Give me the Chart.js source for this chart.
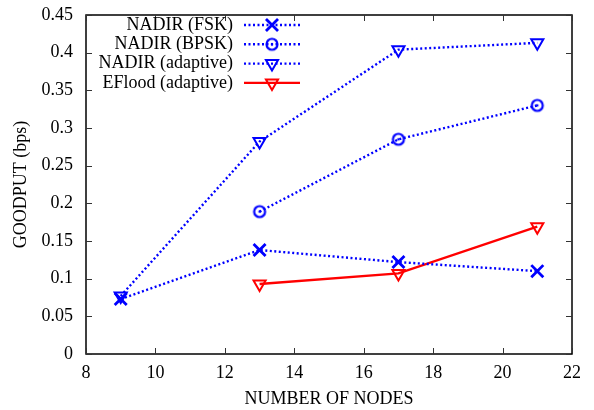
<!DOCTYPE html>
<html>
<head>
<meta charset="utf-8">
<script src="https://cdn.jsdelivr.net/npm/chart.js@4/dist/chart.umd.min.js"></script>
<style>
  html, body { margin: 0; padding: 0; background: #fff; }
  #wrap { width: 594px; height: 410px; }
</style>
</head>
<body>
<div id="wrap"><canvas id="goodputChart" width="594" height="410"></canvas></div>
<script>
const nodes = [9, 13, 17, 21];
const nadirFsk = [0.073, 0.138, 0.122, 0.110];
const nadirBpsk = [null, 0.189, 0.285, 0.330];
const nadirAdaptive = [0.077, 0.282, 0.404, 0.413];
const efloodAdaptive = [null, 0.093, 0.107, 0.169];
const seriesNames = ['NADIR (FSK)', 'NADIR (BPSK)', 'NADIR (adaptive)', 'EFlood (adaptive)'];

const FONT = 'Liberation Serif';
const BLUE = '#0000ff';
const RED = '#ff0000';

function toPoints(vals) {
    return nodes.map((n, i) => ({ x: n, y: vals[i] })).filter(p => p.y !== null);
}

// circle with a dot in the middle
function circleDot() {
    const c = document.createElement('canvas');
    c.width = 16; c.height = 16;
    const g = c.getContext('2d');
    g.strokeStyle = BLUE;
    g.fillStyle = BLUE;
    g.lineWidth = 2.2;
    g.beginPath(); g.arc(8, 8, 5.5, 0, Math.PI * 2); g.stroke();
    g.beginPath(); g.arc(8, 8, 1.3, 0, Math.PI * 2); g.fill();
    return c;
}

const dotted = [2, 2.5];

const datasets = [
    { label: seriesNames[0], data: toPoints(nadirFsk), borderColor: BLUE, borderWidth: 2.4, borderDash: dotted,
      pointStyle: 'crossRot', pointRadius: 8.5, pointBorderWidth: 2.8, pointBorderColor: BLUE },
    { label: seriesNames[1], data: toPoints(nadirBpsk), borderColor: BLUE, borderWidth: 2.4, borderDash: dotted,
      pointStyle: circleDot(), pointRadius: 6 },
    { label: seriesNames[2], data: toPoints(nadirAdaptive), borderColor: BLUE, borderWidth: 2.4, borderDash: dotted,
      pointStyle: 'triangle', rotation: 180, pointRadius: 7, pointBorderWidth: 2,
      pointBorderColor: BLUE, pointBackgroundColor: 'rgba(0,0,0,0)' },
    { label: seriesNames[3], data: toPoints(efloodAdaptive), borderColor: RED, borderWidth: 2.4,
      pointStyle: 'triangle', rotation: 180, pointRadius: 7, pointBorderWidth: 2,
      pointBorderColor: RED, pointBackgroundColor: 'rgba(0,0,0,0)' }
];
datasets.forEach(d => { d.fill = false; d.tension = 0; d.backgroundColor = 'rgba(0,0,0,0)'; });

// frame, inward ticks on all sides, and legend inside the plot
const framePlugin = {
    id: 'frame',
    afterDraw(chart) {
        const ctx = chart.ctx;
        const a = chart.chartArea;
        const xs = chart.scales.x, ys = chart.scales.y;
        ctx.save();
        ctx.strokeStyle = '#000';
        ctx.lineWidth = 1.5;
        ctx.strokeRect(a.left, a.top, a.right - a.left, a.bottom - a.top);
        ctx.lineWidth = 1;
        ctx.strokeStyle = '#333';
        const tl = 6;
        xs.ticks.forEach(t => {
            const px = Math.round(xs.getPixelForValue(t.value)) + 0.5;
            ctx.beginPath();
            ctx.moveTo(px, a.bottom); ctx.lineTo(px, a.bottom - tl);
            ctx.moveTo(px, a.top); ctx.lineTo(px, a.top + tl);
            ctx.stroke();
        });
        ys.ticks.forEach(t => {
            const py = Math.round(ys.getPixelForValue(t.value)) + 0.5;
            ctx.beginPath();
            ctx.moveTo(a.left, py); ctx.lineTo(a.left + tl, py);
            ctx.moveTo(a.right, py); ctx.lineTo(a.right - tl, py);
            ctx.stroke();
        });

        // legend
        ctx.font = '18px "' + FONT + '"';
        ctx.textAlign = 'right';
        ctx.textBaseline = 'middle';
        chart.data.datasets.forEach((ds, i) => {
            const y = a.top + 10 + i * 19.3;
            ctx.fillStyle = '#000';
            ctx.fillText(ds.label, 233, y);
            ctx.strokeStyle = ds.borderColor;
            ctx.lineWidth = ds.borderWidth;
            ctx.setLineDash(ds.borderDash || []);
            ctx.beginPath();
            ctx.moveTo(244, y); ctx.lineTo(300, y);
            ctx.stroke();
            ctx.setLineDash([]);
            ctx.strokeStyle = ds.pointBorderColor || ds.borderColor;
            ctx.fillStyle = ds.pointBackgroundColor || 'rgba(0,0,0,0)';
            ctx.lineWidth = ds.pointBorderWidth || 2;
            Chart.helpers.drawPoint(ctx, {
                pointStyle: ds.pointStyle, rotation: ds.rotation || 0,
                radius: ds.pointRadius, borderWidth: ds.pointBorderWidth || 2
            }, 272, y);
        });
        ctx.restore();
    }
};

new Chart(document.getElementById('goodputChart').getContext('2d'), {
    type: 'line',
    data: { datasets: datasets },
    options: {
        responsive: false,
        animation: false,
        layout: { padding: { top: 15, right: 22, left: 0, bottom: 0 } },
        plugins: { legend: { display: false }, tooltip: { enabled: false } },
        scales: {
            x: {
                type: 'linear', min: 8, max: 22,
                grid: { display: false, drawTicks: false },
                border: { display: false },
                ticks: { stepSize: 2, padding: 8, color: '#000', font: { family: FONT, size: 18 } },
                title: { display: true, text: 'NUMBER OF NODES', color: '#000',
                         font: { family: FONT, size: 18 }, padding: { top: 4, bottom: 0 } },
                afterFit(s) { s.height = 56; s.paddingLeft = 0; s.paddingRight = 0; }
            },
            y: {
                min: 0, max: 0.45,
                grid: { display: false, drawTicks: false },
                border: { display: false },
                ticks: { stepSize: 0.05, padding: 13, color: '#000', font: { family: FONT, size: 18 },
                         callback: v => Number(v.toFixed(2)).toString() },
                title: { display: true, text: 'GOODPUT (bps)', color: '#000',
                         font: { family: FONT, size: 18 }, padding: { top: 10, bottom: 6 } },
                afterFit(s) { s.width = 86; s.paddingTop = 0; s.paddingBottom = 0; }
            }
        }
    },
    plugins: [framePlugin]
});
</script>
</body>
</html>
